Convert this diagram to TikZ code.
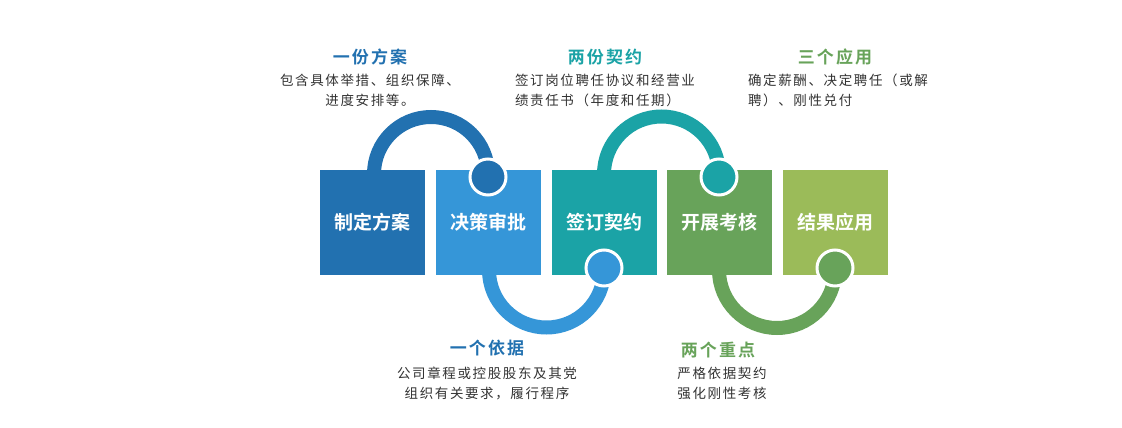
\documentclass[tikz,border=0pt]{standalone}
\usepackage{fontspec}
\setmainfont{Noto Sans CJK SC}
\newfontfamily\hfont[LetterSpace=12]{Noto Sans CJK SC Bold}
\newfontfamily\dfont[LetterSpace=12]{Noto Sans CJK SC}
\newfontfamily\bfont{Noto Sans CJK SC Bold}
\definecolor{cA}{HTML}{2271B0}
\definecolor{cB}{HTML}{3596D8}
\definecolor{cC}{HTML}{1BA3A6}
\definecolor{cD}{HTML}{68A35A}
\definecolor{cE}{HTML}{9BBB59}
\definecolor{txt}{HTML}{333333}
\begin{document}
\begin{tikzpicture}[x=1pt,y=-1pt,
  box/.style={minimum width=105pt,minimum height=105pt,inner sep=0pt,text=white,font=\bfont\fontsize{19}{19}\selectfont},
  knob/.style={circle,draw=white,line width=3pt,minimum size=36pt,inner sep=0pt},
  arcline/.style={line width=14pt},
  head/.style={font=\hfont\fontsize{17}{17}\selectfont},
  desc/.style={font=\dfont\fontsize{13.5}{20}\selectfont,text=txt}]
\fill[white] (0,0) rectangle (1122,428);
% arcs
\draw[arcline,cA] (374,174) arc[start angle=180,end angle=360,radius=57];
\draw[arcline,cB] (489,270) arc[start angle=180,end angle=0,radius=57.5];
\draw[arcline,cC] (604,174) arc[start angle=180,end angle=360,radius=57.5];
\draw[arcline,cD] (719,270) arc[start angle=180,end angle=0,radius=58];
% boxes
\node[box,fill=cA] (b1) at (372.5,222.5) {制定方案};
\node[box,fill=cB] (b2) at (488.5,222.5) {决策审批};
\node[box,fill=cC] (b3) at (604.5,222.5) {签订契约};
\node[box,fill=cD] (b4) at (719.5,222.5) {开展考核};
\node[box,fill=cE] (b5) at (835,222.5) {结果应用};
% knobs
\node[knob,fill=cA] (k1) at (488,177) {};
\node[knob,fill=cB] (k2) at (604,268) {};
\node[knob,fill=cC] (k3) at (719,177) {};
\node[knob,fill=cD] (k4) at (835,268) {};
% texts
\node[head,text=cA] (h1) at (370,57) {一份方案};
\node[desc,align=center] (d1) at (370,90) {包含具体举措、组织保障、\\进度安排等。};
\node[head,text=cC] (h2) at (605,57) {两份契约};
\node[desc,align=left] (d2) at (605,90) {签订岗位聘任协议和经营业\\绩责任书（年度和任期）};
\node[head,text=cD] (h3) at (835,57) {三个应用};
\node[desc,align=left] (d3) at (838,90) {确定薪酬、决定聘任（或解\\聘）、刚性兑付};
\node[head,text=cA] (h4) at (487,348) {一个依据};
\node[desc,align=center] (d4) at (487,383) {公司章程或控股股东及其党\\组织有关要求，履行程序};
\node[head,text=cD] (h5) at (718,350) {两个重点};
\node[desc,align=left] (d5) at (722,383) {严格依据契约\\强化刚性考核};
\end{tikzpicture}
\end{document}
